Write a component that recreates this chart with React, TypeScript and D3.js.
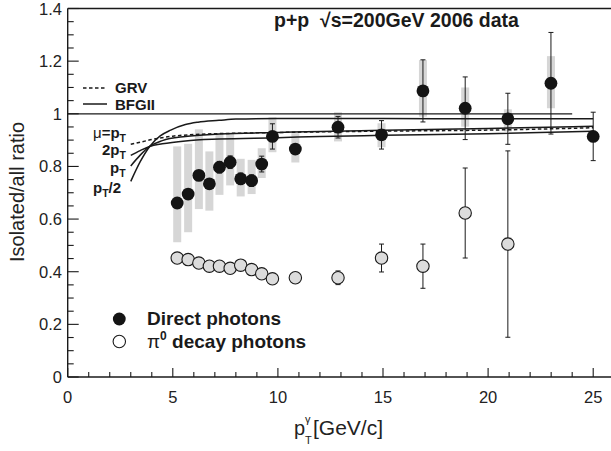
import * as d3 from "d3";

// p_T bin centres (GeV/c)
const ptBins = [5.21, 5.73, 6.24, 6.74, 7.22, 7.73, 8.23, 8.75, 9.23, 9.74, 10.83, 12.86, 14.93, 16.9, 18.91, 20.94, 22.99, 25.0];

// direct photons
const directVal = [0.661, 0.695, 0.766, 0.734, 0.797, 0.816, 0.753, 0.746, 0.809, 0.914, 0.866, 0.949, 0.92, 1.087, 1.021, 0.981, 1.116, 0.914];
const directStat = [0.01, 0.01, 0.012, 0.012, 0.022, 0.024, 0.022, 0.022, 0.03, 0.048, 0.016, 0.041, 0.054, 0.118, 0.119, 0.097, 0.193, 0.092];
const directSysLo = [0.512, 0.55, 0.638, 0.632, 0.692, 0.728, 0.686, 0.695, 0.756, 0.854, 0.815, 0.895, 0.873, 0.989, 0.951, 0.933, 1.021, null];
const directSysHi = [0.876, 0.886, 0.941, 0.857, 0.926, 0.924, 0.829, 0.825, 0.869, 0.987, 0.926, 1.006, 0.964, 1.204, 1.1, 1.017, 1.219, null];

// pi0 decay photons (first 16 bins)
const decayVal = [0.452, 0.446, 0.433, 0.421, 0.421, 0.413, 0.425, 0.408, 0.392, 0.373, 0.377, 0.377, 0.452, 0.421, 0.623, 0.505];
const decayStat = [0, 0, 0, 0, 0, 0, 0, 0, 0, 0, 0, 0.026, 0.053, 0.084, 0.171, 0.354];
const decaySysLo = [null, null, null, null, null, null, null, null, null, null, null, null, null, null, 0.6, 0.48];
const decaySysHi = [null, null, null, null, null, null, null, null, null, null, null, null, null, null, 0.645, 0.53];

// theory curves [pT, ratio]
const bfgHalf: [number, number][] = [[3.0, 0.743], [3.45, 0.818], [3.9, 0.876], [4.4, 0.916], [4.9, 0.938], [5.6, 0.959], [6.2, 0.968], [7.2, 0.975], [8.0, 0.98], [10, 0.982], [15, 0.982], [20, 0.981], [25, 0.981]];
const bfgOne: [number, number][] = [[3.0, 0.802], [3.45, 0.843], [3.9, 0.876], [4.5, 0.898], [5.6, 0.914], [7.2, 0.923], [10, 0.929], [12, 0.933], [15, 0.937], [20, 0.944], [25, 0.953]];
const bfgTwo: [number, number][] = [[3.0, 0.842], [3.45, 0.86], [3.9, 0.876], [4.5, 0.886], [5.6, 0.897], [7.2, 0.904], [10, 0.909], [12, 0.914], [15, 0.918], [20, 0.924], [25, 0.934]];
const grv: [number, number][] = [[3.0, 0.884], [3.5, 0.893], [4.0, 0.902], [5.0, 0.915], [6.0, 0.921], [8.0, 0.926], [10, 0.929], [15, 0.934], [20, 0.938], [25, 0.947]];

const xTicks = [0, 5, 10, 15, 20, 25];
const yTicks = [0, 0.2, 0.4, 0.6, 0.8, 1, 1.2, 1.4];

const W = 611, H = 451;
const font = "'Liberation Sans', Arial, Helvetica, sans-serif";
const ink = "#1a1a1a";

const x = d3.scaleLinear().domain([0, 26]).range([67.7, 67.7 + 26 * 21.02]);
const y = d3.scaleLinear().domain([0, 1.4]).range([377, 8.5]);

const line = d3.line<[number, number]>().x(d => x(d[0])).y(d => y(d[1])).curve(d3.curveMonotoneX);

const ErrBar = ({xv, v, e}: {xv: number, v: number, e: number}) => {
    if (!e) return null
    const cx = x(xv)
    return <g stroke={ink} strokeWidth={1}>
        <line x1={cx} x2={cx} y1={y(v + e)} y2={y(v - e)}/>
        <line x1={cx - 2.5} x2={cx + 2.5} y1={y(v + e)} y2={y(v + e)}/>
        <line x1={cx - 2.5} x2={cx + 2.5} y1={y(v - e)} y2={y(v - e)}/>
    </g>
}

const SysBox = ({xv, lo, hi}: {xv: number, lo: number | null, hi: number | null}) => {
    if (lo == null || hi == null) return null
    return <rect x={x(xv) - 4} width={8} y={y(hi)} height={y(lo) - y(hi)} fill="#d6d6d6"/>
}

const App = () => {
    const minorX = d3.range(0, 26, 1)
    const minorY = d3.range(0, 1.41, 0.05)

    return <svg width={W} height={H} style={{position: "absolute", left: 0, top: 0, background: "#fff"}} fontFamily={font}>
        {/* systematic boxes */}
        {ptBins.map((p, i) => <SysBox key={"ds" + i} xv={p} lo={directSysLo[i]} hi={directSysHi[i]}/>)}
        {decayVal.map((_, i) => <SysBox key={"ps" + i} xv={ptBins[i]} lo={decaySysLo[i]} hi={decaySysHi[i]}/>)}

        {/* unity line */}
        <line x1={x(0)} x2={x(24)} y1={y(1)} y2={y(1)} stroke={ink} strokeWidth={1.2}/>

        {/* theory */}
        {[bfgHalf, bfgOne, bfgTwo].map((c, i) =>
            <path key={"t" + i} d={line(c) ?? ""} fill="none" stroke={ink} strokeWidth={1.5}/>)}
        <path d={line(grv) ?? ""} fill="none" stroke={ink} strokeWidth={1.5} strokeDasharray="3.5,2.5"/>

        {/* error bars */}
        {ptBins.map((p, i) => <ErrBar key={"de" + i} xv={p} v={directVal[i]} e={directStat[i]}/>)}
        {decayVal.map((v, i) => <ErrBar key={"pe" + i} xv={ptBins[i]} v={v} e={decayStat[i]}/>)}

        {/* markers */}
        {decayVal.map((v, i) =>
            <circle key={"pm" + i} cx={x(ptBins[i])} cy={y(v)} r={6.2} fill="#dcdcdc" stroke={ink} strokeWidth={1.1}/>)}
        {ptBins.map((p, i) =>
            <circle key={"dm" + i} cx={x(p)} cy={y(directVal[i])} r={6.4} fill="#141414"/>)}

        {/* axes */}
        <g stroke={ink} strokeWidth={1.4}>
            <line x1={x(0)} x2={W} y1={y(0)} y2={y(0)}/>
            <line x1={x(0)} x2={W} y1={y(1.4)} y2={y(1.4)}/>
            <line x1={x(0)} x2={x(0)} y1={y(0)} y2={y(1.4)}/>
        </g>
        <g stroke={ink} strokeWidth={1.1}>
            {minorX.map(t => <line key={"mx" + t} x1={x(t)} x2={x(t)} y1={y(0)} y2={y(0) - (t % 5 === 0 ? 9 : 5)}/>)}
            {minorY.map((t, i) => <line key={"my" + i} x1={x(0)} x2={x(0) + (i % 4 === 0 ? 11 : 6)} y1={y(t)} y2={y(t)}/>)}
        </g>
        <g fontSize={16.5} fill="#222">
            {xTicks.map(t => <text key={"xt" + t} x={x(t)} y={403} textAnchor="middle">{t}</text>)}
            {yTicks.map(t => <text key={"yt" + t} x={62} y={y(t) + 6} textAnchor="end">{String(t)}</text>)}
        </g>

        {/* axis titles */}
        <text transform="translate(24,192) rotate(-90)" textAnchor="middle" fontSize={20} fill="#222">Isolated/all ratio</text>
        <g fill="#222">
            <text x={294} y={435} fontSize={20}>p</text>
            <text x={305} y={444} fontSize={11}>T</text>
            <text x={305} y={423} fontSize={11}>γ</text>
            <text x={313} y={435} fontSize={21}>[GeV/c]</text>
        </g>

        {/* title */}
        <text x={274} y={27} fontSize={19.5} fontWeight="bold" fill={ink} xmlSpace="preserve">p+p  √s=200GeV 2006 data</text>

        {/* theory legend */}
        <line x1={83} x2={107} y1={88} y2={88} stroke={ink} strokeWidth={1.5} strokeDasharray="3.5,2.5"/>
        <line x1={83} x2={107} y1={104} y2={104} stroke={ink} strokeWidth={1.5}/>
        <g fontSize={15} fontWeight="bold" fill={ink}>
            <text x={115} y={93}>GRV</text>
            <text x={115} y={109.5}>BFGII</text>
        </g>

        {/* scale labels */}
        <g fontSize={15} fontWeight="bold" fill={ink}>
            <text x={93} y={138}><tspan fontWeight="normal">μ</tspan>=p<tspan fontSize={10.5} dy={4}>T</tspan></text>
            <text x={102} y={155}>2p<tspan fontSize={10.5} dy={4}>T</tspan></text>
            <text x={110} y={173}>p<tspan fontSize={10.5} dy={4}>T</tspan></text>
            <text x={93} y={193}>p<tspan fontSize={10.5} dy={4}>T</tspan><tspan dy={-4}>/2</tspan></text>
        </g>

        {/* data legend */}
        <circle cx={119.3} cy={319} r={6.4} fill="#141414"/>
        <circle cx={119.3} cy={341.5} r={6.2} fill="#fff" stroke={ink} strokeWidth={1.1}/>
        <g fontSize={19} fontWeight="bold" fill={ink}>
            <text x={147} y={325}>Direct photons</text>
            <text x={147} y={348}><tspan fontWeight="normal">π</tspan><tspan fontSize={12} dy={-8}>0</tspan><tspan dy={8}> decay photons</tspan></text>
        </g>
    </svg>
}

export default App
